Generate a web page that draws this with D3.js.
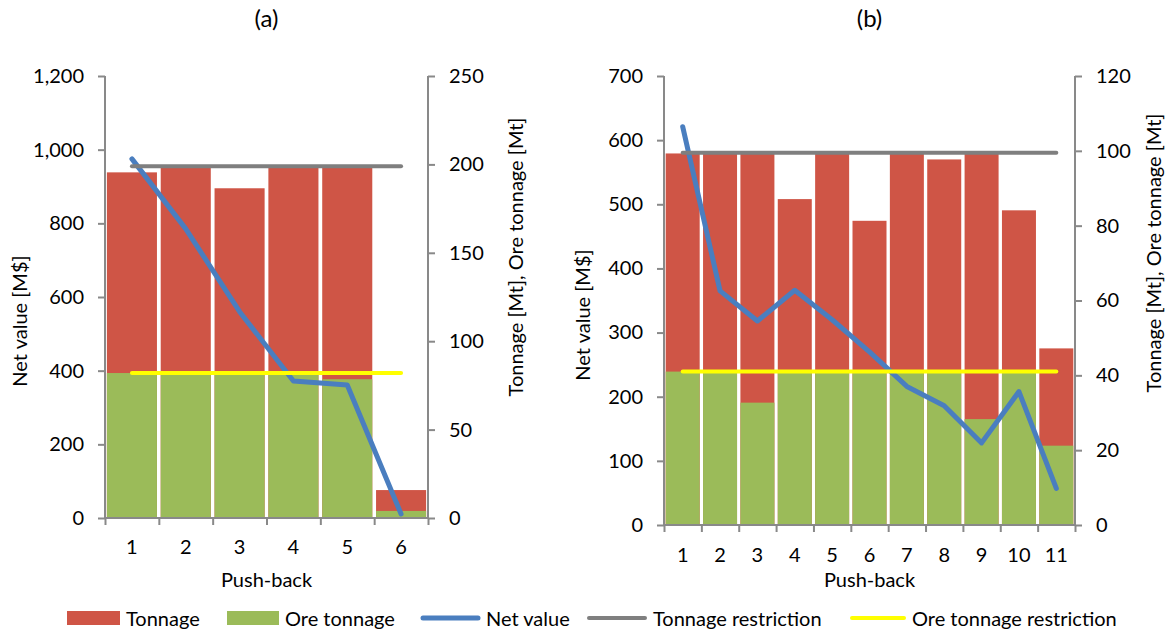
<!DOCTYPE html>
<html><head><meta charset="utf-8">
<script src="https://cdn.jsdelivr.net/npm/d3@7"></script>
<style>
html,body{margin:0;padding:0;background:#fff;}
svg{display:block;}
text{font-family:Lato,"Open Sans",sans-serif;fill:#000;}
</style></head>
<body>
<svg id="chart" width="1170" height="633"></svg>
<script>
// ---------- data ----------
const categoriesA = ["1","2","3","4","5","6"];
const tonnageA = [195.5, 199, 186.5, 199, 199, 15.8];
const oreA = [82, 82, 82, 82, 78.5, 4];
const netA = [975, 785, 560, 372, 361, 11];
const tonnageLimitA = 199;
const oreLimitA = 82;
const leftTicksA = [0,200,400,600,800,1000,1200];
const rightTicksA = [0,50,100,150,200,250];

const categoriesB = ["1","2","3","4","5","6","7","8","9","10","11"];
const tonnageB = [99.3, 99.3, 99.3, 87.1, 99.3, 81.3, 99.3, 97.7, 99.3, 84.1, 47.2];
const oreB = [41, 41, 32.7, 41, 41, 41, 41, 41, 28.3, 41, 21.2];
const netB = [621, 365, 318, 366, 320, 270, 216, 186, 128, 208, 57];
const tonnageLimitB = 99.5;
const oreLimitB = 41;
const leftTicksB = [0,100,200,300,400,500,600,700];
const rightTicksB = [0,20,40,60,80,100,120];

const legendItems = [
  {label:"Tonnage", type:"rect", color:"#CF5546"},
  {label:"Ore tonnage", type:"rect", color:"#9BBB59"},
  {label:"Net value", type:"line", color:"#4A7EBF"},
  {label:"Tonnage restriction", type:"line", color:"#7F7F7F"},
  {label:"Ore tonnage restriction", type:"line", color:"#FFFF00"}
];

// ---------- styles ----------
const C = {red:"#CF5546", green:"#9BBB59", blue:"#4A7EBF", grey:"#7F7F7F", yellow:"#FFFF00", axis:"#898989"};
const FS = 20;

const svg = d3.select("#chart");

function panel(cfg){
  const g = svg.append("g");
  const x = d3.scaleBand().domain(cfg.cats).range([cfg.x0, cfg.x1]).paddingInner(cfg.pad).paddingOuter(cfg.pad/2);
  const xc = d3.scalePoint().domain(cfg.cats).range([cfg.x0, cfg.x1]).padding(0.5);
  const yL = d3.scaleLinear().domain([0, cfg.leftMax]).range([cfg.yBot, cfg.yTop]);
  const yR = d3.scaleLinear().domain([0, cfg.rightMax]).range([cfg.yBot, cfg.yTop]);

  // bars
  g.selectAll(".ton").data(cfg.cats).join("rect")
    .attr("x", d=>x(d)).attr("width", x.bandwidth())
    .attr("y", (d,i)=>yR(cfg.ton[i])).attr("height", (d,i)=>yR(0)-yR(cfg.ton[i]))
    .attr("fill", C.red);
  g.selectAll(".ore").data(cfg.cats).join("rect")
    .attr("x", d=>x(d)).attr("width", x.bandwidth())
    .attr("y", (d,i)=>yR(cfg.ore[i])).attr("height", (d,i)=>yR(0)-yR(cfg.ore[i]))
    .attr("fill", C.green);

  // axes
  const axL = g.append("g").attr("transform",`translate(${cfg.x0},0)`)
    .call(d3.axisLeft(yL).tickValues(cfg.lt).tickSize(7).tickPadding(14).tickFormat(d3.format(",")));
  const axR = g.append("g").attr("transform",`translate(${cfg.x1},0)`)
    .call(d3.axisRight(yR).tickValues(cfg.rt).tickSize(7).tickPadding(14));
  const xEdge = d3.scaleLinear().domain([0, cfg.cats.length]).range([cfg.x0, cfg.x1]);
  const axB = g.append("g").attr("transform",`translate(0,${cfg.yBot})`)
    .call(d3.axisBottom(xEdge).tickValues(d3.range(cfg.cats.length+1)).tickSize(7).tickFormat(""));
  [axL, axR, axB].forEach(a=>{
    a.select(".domain").attr("stroke", C.axis).attr("stroke-width", 2).attr("d", null);
    a.selectAll(".tick line").attr("stroke", C.axis).attr("stroke-width", 2);
    a.selectAll("text").attr("font-size", FS).attr("font-family","Lato").attr("fill","#000");
  });
  axL.select(".domain").attr("d", `M0,${cfg.yTop}V${cfg.yBot}`);
  axR.select(".domain").attr("d", `M0,${cfg.yTop}V${cfg.yBot}`);
  axB.select(".domain").attr("d", `M${cfg.x0},0H${cfg.x1}`);

  // category labels
  g.selectAll(".cat").data(cfg.cats).join("text")
    .attr("x", d=>xc(d)).attr("y", cfg.catY).attr("text-anchor","middle")
    .attr("font-size", FS).text(d=>d);

  // net value line
  const line = d3.line().x((d,i)=>xc(cfg.cats[i])).y(d=>yL(d));
  g.append("path").datum(cfg.net).attr("d", line).attr("fill","none")
    .attr("stroke", C.blue).attr("stroke-width", 5).attr("stroke-linejoin","round").attr("stroke-linecap","round");

  // restriction lines
  const first = xc(cfg.cats[0]), last = xc(cfg.cats[cfg.cats.length-1]);
  g.append("line").attr("x1", first).attr("x2", last).attr("y1", yR(cfg.tonLim)).attr("y2", yR(cfg.tonLim))
    .attr("stroke", C.grey).attr("stroke-width", 4).attr("stroke-linecap","round");
  g.append("line").attr("x1", first).attr("x2", last).attr("y1", yR(cfg.oreLim)).attr("y2", yR(cfg.oreLim))
    .attr("stroke", C.yellow).attr("stroke-width", 4).attr("stroke-linecap","round");

  // titles
  g.append("text").attr("x", (cfg.x0+cfg.x1)/2).attr("y", 27).attr("text-anchor","middle")
    .attr("font-family","'Liberation Serif','Times New Roman',serif").attr("font-size", 24).text(cfg.title);
  g.append("text").attr("x", (cfg.x0+cfg.x1)/2).attr("y", 587).attr("text-anchor","middle")
    .attr("font-size", FS).text("Push-back");
  g.append("text").attr("transform", `translate(${cfg.lTitleX},${cfg.lTitleY}) rotate(-90)`)
    .attr("text-anchor","middle").attr("dominant-baseline","central").attr("font-size", FS).text("Net value [M$]");
  g.append("text").attr("transform", `translate(${cfg.rTitleX},${cfg.rTitleY}) rotate(-90)`)
    .attr("text-anchor","middle").attr("dominant-baseline","central").attr("font-size", FS).text("Tonnage [Mt], Ore tonnage [Mt]");
}

panel({cats:categoriesA, ton:tonnageA, ore:oreA, net:netA, tonLim:tonnageLimitA, oreLim:oreLimitA,
  lt:leftTicksA, rt:rightTicksA, leftMax:1200, rightMax:250,
  x0:105, x1:428, yTop:76, yBot:518, pad:0.07, catY:554, title:"(a)",
  lTitleX:19, lTitleY:321, rTitleX:515, rTitleY:257});
panel({cats:categoriesB, ton:tonnageB, ore:oreB, net:netB, tonLim:tonnageLimitB, oreLim:oreLimitB,
  lt:leftTicksB, rt:rightTicksB, leftMax:700, rightMax:120,
  x0:664, x1:1075, yTop:76, yBot:525, pad:0.09, catY:562, title:"(b)",
  lTitleX:582, lTitleY:315, rTitleX:1153, rTitleY:253});

// legend
const legendX = [67, 227, 421, 587, 850];
const legendW = [53, 52, 59, 60, 56];
const ly = 618;
const lg = svg.append("g");
legendItems.forEach((it, i)=>{
  const x0 = legendX[i], w = legendW[i];
  if (it.type === "rect") {
    lg.append("rect").attr("x", x0).attr("y", ly-7).attr("width", w).attr("height", 14).attr("fill", it.color);
  } else {
    lg.append("line").attr("x1", x0+2).attr("x2", x0+w-2).attr("y1", ly).attr("y2", ly)
      .attr("stroke", it.color).attr("stroke-width", it.label==="Net value"?5:4).attr("stroke-linecap","round");
  }
  lg.append("text").attr("x", x0+w+6).attr("y", ly).attr("dominant-baseline","central")
    .attr("font-size", FS).text(it.label);
});
</script>
</body></html>
